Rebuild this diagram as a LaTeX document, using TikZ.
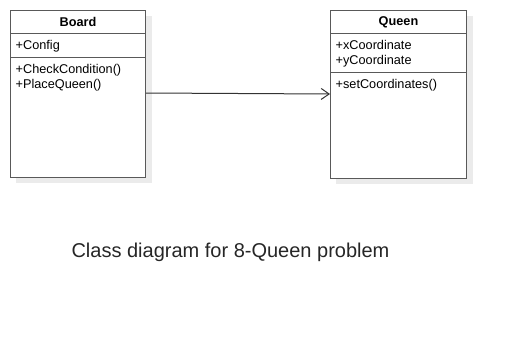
\documentclass[tikz,border=0pt]{standalone}
\usepackage{fontspec}
\setmainfont{Liberation Sans}
\usetikzlibrary{arrows.meta}

\begin{document}
\begin{tikzpicture}[x=1pt,y=-1pt,
    compartment/.style={rectangle,draw=black!65,line width=1pt,fill=white,inner sep=0pt,anchor=north west},
    classname/.style={font=\fontsize{12.7}{15}\selectfont\bfseries},
    member/.style={anchor=north west,inner sep=0pt,align=left,font=\fontsize{12.7}{15}\selectfont},
    shadowbox/.style={fill=black!8},
    assoc/.style={-{Straight Barb[length=8pt,width=11pt]},line width=1pt,black!80}
  ]
  \useasboundingbox (0,0) rectangle (506,337);

  % shadows behind the two classes
  \fill[shadowbox] (16,16) rectangle (151.5,183);
  \fill[shadowbox] (336,16) rectangle (472.5,183.5);

  % class Board
  \node[compartment,classname,minimum width=135pt,minimum height=23pt] (boardhead) at (10,10) {Board};
  \node[compartment,minimum width=135pt,minimum height=24pt] (boardattr) at (10,33) {};
  \node[compartment,minimum width=135pt,minimum height=120pt] (boardops) at (10,57) {};
  \node[member] (config) at (15.5,40.5) {+Config};
  \node[member] (boardmeth) at (15.5,64) {+CheckCondition()\\+PlaceQueen()};

  % class Queen
  \node[compartment,classname,minimum width=136pt,minimum height=23pt] (queenhead) at (330,10) {Queen};
  \node[compartment,minimum width=136pt,minimum height=39pt] (queenattr) at (330,33) {};
  \node[compartment,minimum width=136pt,minimum height=106pt] (queenops) at (330,72) {};
  \node[member] (coords) at (335.5,40.5) {+xCoordinate\\+yCoordinate};
  \node[member] (setter) at (335.5,79.5) {+setCoordinates()};

  \draw[assoc] ([yshift=-36pt]boardops.north east) -- ([yshift=-22pt]queenops.north west);

  \node[font=\fontsize{20}{24}\selectfont,text=black!85,anchor=base] (caption) at (230.5,257.7)
    {Class diagram for 8-Queen problem};
\end{tikzpicture}
\end{document}
